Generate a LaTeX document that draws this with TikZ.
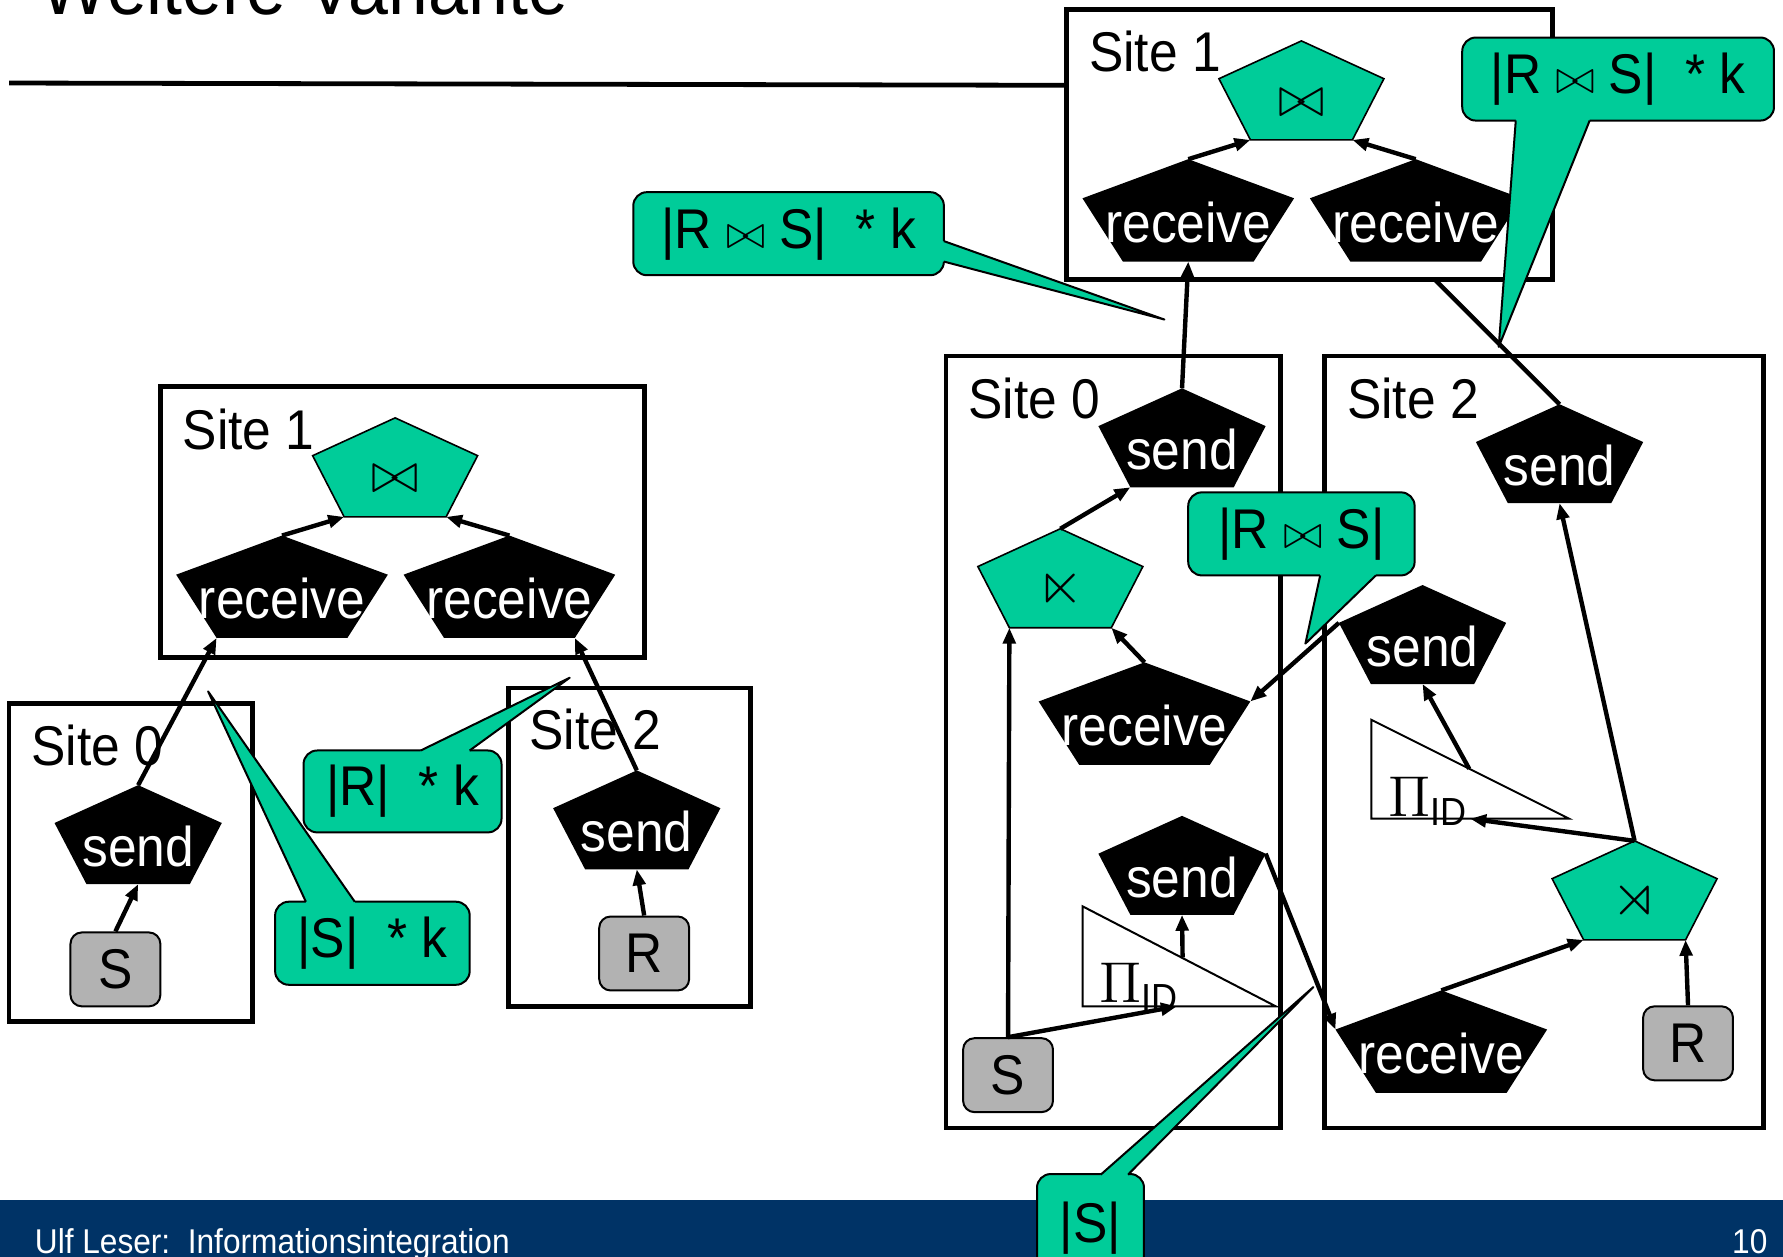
\documentclass[tikz,border=0pt]{standalone}
\usepackage{amsmath,amssymb}
\usepackage{fontspec}
\setmainfont{Liberation Sans}[FakeStretch=0.92]
\usetikzlibrary{arrows.meta}

\definecolor{opgreen}{RGB}{0,204,153}
\definecolor{relgray}{RGB}{178,178,178}
\definecolor{footblue}{RGB}{0,51,102}

% flat pentagon: a regular pentagon stretched into the node's rectangle
\makeatletter
\newdimen\pentxa \newdimen\pentya \newdimen\pentxb \newdimen\pentyb
\def\pentcorners{\southwest \pentxa=\pgf@x \pentya=\pgf@y
  \northeast \pentxb=\pgf@x \pentyb=\pgf@y}
\pgfdeclareshape{pentagonbox}{%
  \inheritsavedanchors[from=rectangle]%
  \inheritanchorborder[from=rectangle]%
  \inheritanchor[from=rectangle]{center}%
  \inheritanchor[from=rectangle]{north}%
  \inheritanchor[from=rectangle]{south}%
  \inheritanchor[from=rectangle]{west}%
  \inheritanchor[from=rectangle]{east}%
  \anchor{lower left}{\pentcorners
    \pgf@x=\dimexpr\pentxa+(\pentxb-\pentxa)*191/1000\relax \pgf@y=\pentya}%
  \anchor{lower right}{\pentcorners
    \pgf@x=\dimexpr\pentxb-(\pentxb-\pentxa)*191/1000\relax \pgf@y=\pentya}%
  \anchor{left corner}{\pentcorners
    \pgf@x=\pentxa \pgf@y=\dimexpr\pentyb-(\pentyb-\pentya)*382/1000\relax}%
  \anchor{right corner}{\pentcorners
    \pgf@x=\pentxb \pgf@y=\dimexpr\pentyb-(\pentyb-\pentya)*382/1000\relax}%
  \backgroundpath{\pentcorners
    \pgfpathmoveto{\pgfqpoint{\dimexpr(\pentxa+\pentxb)/2\relax}{\pentyb}}%
    \pgfpathlineto{\pgfqpoint{\pentxb}{\dimexpr\pentyb-(\pentyb-\pentya)*382/1000\relax}}%
    \pgfpathlineto{\pgfqpoint{\dimexpr\pentxb-(\pentxb-\pentxa)*191/1000\relax}{\pentya}}%
    \pgfpathlineto{\pgfqpoint{\dimexpr\pentxa+(\pentxb-\pentxa)*191/1000\relax}{\pentya}}%
    \pgfpathlineto{\pgfqpoint{\pentxa}{\dimexpr\pentyb-(\pentyb-\pentya)*382/1000\relax}}%
    \pgfpathclose}%
}
\makeatother

\begin{document}
\begin{tikzpicture}[x=0.01cm, y=-0.01cm,
  site/.style={draw, line width=1.2pt},
  sitelbl/.style={anchor=base west, inner sep=0, font=\fontsize{14}{16}\selectfont},
  pent/.style={shape=pentagonbox, inner sep=0, outer sep=0, text height=0.56cm, text depth=0pt, font=\fontsize{14}{16}\selectfont},
  op/.style={pent, draw, fill=opgreen, line width=0.4pt, minimum width=1.45cm, minimum height=0.87cm, text height=0.45cm, font=\fontsize{15}{16}\selectfont},
  sendop/.style={pent, fill=black, text=white, minimum width=1.47cm, minimum height=0.87cm},
  recvop/.style={pent, fill=black, text=white, minimum width=1.86cm, minimum height=0.9cm},
  rel/.style={draw, fill=relgray, rounded corners=0.1cm, line width=0.5pt, minimum width=0.79cm, minimum height=0.65cm, inner sep=0, font=\fontsize{14}{16}\selectfont},
  note/.style={draw, fill=opgreen, rounded corners=0.12cm, line width=0.5pt, inner sep=0, minimum height=0.73cm, font=\fontsize{14}{16}\selectfont},
  tail/.style={line width=0.5pt, line join=round},
  proj/.style={draw, fill=white, line width=0.5pt},
  projlbl/.style={anchor=base west, inner sep=0, font=\fontsize{14}{16}\selectfont},
  flow/.style={line width=1.1pt, -{Triangle[length=0.14cm, width=0.11cm]}}]
\useasboundingbox (0,0) rectangle (1568,1105);
\clip (0,0) rectangle (1568,1105);

% title, rule and footer
\node[anchor=base west, inner sep=0, font=\fontsize{19.5}{22}\selectfont] (title) at (35,13) {Weitere Variante};
\draw[line width=1.2pt] (8,73) -- (938,75);
\fill[footblue] (0,1055) rectangle (1568,1105);
\node[anchor=base west, inner sep=0, text=white, font=\fontsize{8.6}{10}\selectfont] (foot) at (30,1102) {Ulf Leser:\ \ Informationsintegration};
\node[anchor=base east, inner sep=0, text=white, font=\fontsize{8.6}{10}\selectfont] (page) at (1555,1102) {10};

\begin{scope}
% left plan: sites
\draw[site] (141,340) rectangle (567,578);
\draw[site] (8,619) rectangle (222,898);
\draw[site] (447,605) rectangle (660,885);
\node[sitelbl] at (160,395) {Site 1};
\node[sitelbl] at (27,673) {Site 0};
\node[sitelbl] at (465,659) {Site 2};
% operators
\node[op] (l join) at (347.5,411) {$\bowtie$};
\node[recvop] (l recv s) at (248,516) {receive};
\node[recvop] (l recv r) at (448,516) {receive};
\node[sendop] (l send s) at (121.5,734) {send};
\node[sendop] (l send r) at (560,721) {send};
\node[rel] (l rel s) at (101.5,852.5) {S};
\node[rel] (l rel r) at (566.5,838.5) {R};
% costs
\node[note, minimum width=1.74cm, minimum height=0.72cm] (note r) at (354,696) {|R|~~* k};
\fill[opgreen] (370,660) -- (501,596) -- (413,660) -- (413,664) -- (370,664) -- cycle;
\draw[tail] (370,660) -- (501,596) -- (413,660);
\node[note, minimum width=1.71cm] (note s) at (327.5,829.5) {|S|~~* k};
\fill[opgreen] (269,793) -- (183,608) -- (312,793) -- (312,797) -- (269,797) -- cycle;
\draw[tail] (269,793) -- (183,608) -- (312,793);
% data flow
\draw[flow] (l recv s.north) -- (l join.lower left);
\draw[flow] (l recv r.north) -- (l join.lower right);
\draw[flow] (l send s.north) -- (l recv s.lower left);
\draw[flow] (l send r.north) -- (l recv r.lower right);
\draw[flow] (l rel s.north) -- (l send s.south);
\draw[flow] (l rel r.north) -- (l send r.south);
\end{scope}

\begin{scope}
% right plan: sites
\draw[site] (938,8) rectangle (1365,246);
\draw[site] (832,313) rectangle (1126,992);
\draw[site] (1165,313) rectangle (1551,992);
\node[sitelbl] at (957,63) {Site 1};
\node[sitelbl] at (851,368) {Site 0};
\node[sitelbl] at (1184,368) {Site 2};
% operators
\node[op] (r join) at (1144.5,79.5) {$\bowtie$};
\node[recvop] (r recv s) at (1045,185) {receive};
\node[recvop] (r recv r) at (1245,185) {receive};
\node[sendop] (s0 send up) at (1039.5,385) {send};
\node[op] (s0 semi) at (932.5,508.5) {$\ltimes$};
\node[recvop] (s0 recv) at (1006.5,627.5) {receive};
\node[sendop] (s0 send lo) at (1039.5,761) {send};
\node[rel] (s0 rel) at (886.5,945.5) {S};
\node[sendop] (s2 send up) at (1371.5,399) {send};
\node[sendop] (s2 send mid) at (1251,558) {send};
\node[op] (s2 semi) at (1437.5,783) {$\rtimes$};
\node[recvop] (s2 recv) at (1267.5,916) {receive};
\node[rel] (s2 rel) at (1484.5,917.5) {R};
% projections
\draw[proj] (952,797) -- (952,885) -- (1122,885) -- cycle;
\node[projlbl] (s0 proj) at (966,882) {$\Pi_{\text{ID}}$};
\coordinate (s0 proj in) at (1035,885);
\coordinate (s0 proj out) at (1040,842);
\draw[proj] (1206,633) -- (1206,720) -- (1380,720) -- cycle;
\node[projlbl] (s2 proj) at (1220,718) {$\Pi_{\text{ID}}$};
\coordinate (s2 proj in) at (1293,720);
\coordinate (s2 proj out) at (1292,676);
\coordinate (cut) at (1262,246);
% costs
\node[note, minimum width=2.73cm] (note join a) at (693.5,205.5) {|R {\fontsize{12}{14}\selectfont$\bowtie$} S|~~* k};
\fill[opgreen] (830,212) -- (1024,281) -- (830,230) -- (826,230) -- (826,212) -- cycle;
\draw[tail] (830,212) -- (1024,281) -- (830,230);
\node[note, minimum width=2.74cm] (note join b) at (1423,69.5) {|R {\fontsize{12}{14}\selectfont$\bowtie$} S|~~* k};
\fill[opgreen] (1333,106) -- (1318,305) -- (1398,106) -- (1398,102) -- (1333,102) -- cycle;
\draw[tail] (1333,106) -- (1318,305) -- (1398,106);
\node[note, minimum width=1.99cm] (note semi) at (1144.5,469.5) {|R {\fontsize{12}{14}\selectfont$\bowtie$} S|};
\fill[opgreen] (1161,506) -- (1148,566) -- (1210,506) -- (1210,502) -- (1161,502) -- cycle;
\draw[tail] (1161,506) -- (1148,566) -- (1210,506);
\node[note, minimum width=0.94cm, minimum height=0.95cm] (note ids) at (959,1080) {|S|};
\fill[opgreen] (968,1033) -- (1155,868) -- (992,1033) -- (992,1037) -- (968,1037) -- cycle;
\draw[tail] (968,1033) -- (1155,868) -- (992,1033);
% data flow
\draw[flow] (r recv s.north) -- (r join.lower left);
\draw[flow] (r recv r.north) -- (r join.lower right);
\draw[flow] (s0 send up.north) -- (r recv s.south);
\draw[line width=1.1pt] (s2 send up.north) -- (cut);
\draw[flow] (s0 semi.north) -- (s0 send up.lower left);
\draw[flow] (s0 recv.north) -- (s0 semi.lower right);
\draw[flow] (s0 rel.north) -- (s0 semi.lower left);
\draw[flow] (s0 rel.north) -- (s0 proj in);
\draw[flow] (s0 proj out) -- (s0 send lo.south);
\draw[flow] (s0 send lo.right corner) -- (s2 recv.left corner);
\draw[flow] (s2 send mid.left corner) -- (s0 recv.right corner);
\draw[flow] (s2 proj out) -- (s2 send mid.south);
\draw[flow] (s2 semi.north) -- (s2 send up.south);
\draw[flow] (s2 semi.north) -- (s2 proj in);
\draw[flow] (s2 recv.north) -- (s2 semi.lower left);
\draw[flow] (s2 rel.north) -- (s2 semi.lower right);
\end{scope}
\end{tikzpicture}
\end{document}
